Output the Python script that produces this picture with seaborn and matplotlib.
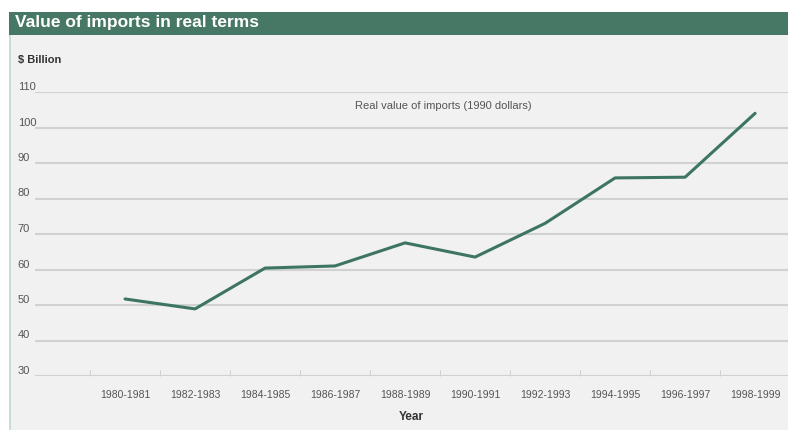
import matplotlib
matplotlib.use("Agg")
import matplotlib.pyplot as plt
from matplotlib.patches import Rectangle
import pandas as pd
import seaborn as sns

### data
periods = ["1980-1981", "1982-1983", "1984-1985", "1986-1987", "1988-1989",
           "1990-1991", "1992-1993", "1994-1995", "1996-1997", "1998-1999"]
imports = [51.7, 48.9, 60.4, 61.0, 67.5, 63.5, 73.0, 85.8, 86.0, 104.0]
yticks = [30, 40, 50, 60, 70, 80, 90, 100, 110]

df = pd.DataFrame({"Year": periods, "Imports": imports})

sns.set_style("white")
plt.rcParams["font.family"] = ["Liberation Sans Narrow", "Liberation Sans", "DejaVu Sans"]

green = "#477866"
line_col = "#3d7562"
grid_col = "#cfd2cf"
text_col = "#555555"

fig = plt.figure(figsize=(7.88, 4.30), dpi=100)
fig.patch.set_facecolor("white")

# panel background + title bar
fig.patches.append(Rectangle((9/788, 0), 1, (430-35)/430, transform=fig.transFigure,
                             facecolor="#f0f1f0", edgecolor="none", zorder=-2))
fig.patches.append(Rectangle((9/788, (430-35)/430), 1, 23/430, transform=fig.transFigure,
                             facecolor=green, edgecolor="none", zorder=-2))
fig.patches.append(Rectangle((9/788, 0), 2/788, (430-35)/430, transform=fig.transFigure,
                             facecolor="#c9ddd5", edgecolor="none", zorder=-1))
fig.text(15/788, (430-23)/430, "Value of imports in real terms", color="white",
         fontsize=12.5, fontweight="bold", va="center", ha="left")

ax = fig.add_axes([35/788, (430-376)/430, 1-35/788, (376-92)/430])
ax.set_facecolor("none")
ax.set_zorder(3)

sns.lineplot(data=df, x="Year", y="Imports", ax=ax, color=line_col, linewidth=2.2,
             sort=False)

ax.set_xlim(-1.286, 9.47)
ax.set_ylim(30, 110)
ax.set_yticks(yticks)
ax.set_yticklabels([str(t) for t in yticks])
for s in ax.spines.values():
    s.set_visible(False)
ax.grid(axis="y", color=grid_col, linewidth=1.5)
ax.grid(axis="x", visible=False)
ax.set_axisbelow(True)

ax.tick_params(axis="y", length=0, pad=12.5, labelsize=8, labelcolor=text_col)
for lab in ax.get_yticklabels():
    lab.set_horizontalalignment("left")
    lab.set_verticalalignment("bottom")

ax.set_xticks(range(len(periods)))
ax.set_xticklabels(periods)
ax.tick_params(axis="x", length=0, pad=10, labelsize=7.5, labelcolor=text_col)
ax.set_xticks([i - 0.5 for i in range(len(periods))], minor=True)
ax.tick_params(axis="x", which="minor", direction="in", length=4, color="#c8cbc8",
               bottom=True)

ax.set_xlabel("Year", fontsize=8.5, fontweight="bold", color="#333333", labelpad=8)
ax.set_ylabel("")

fig.text(18/788, (430-60)/430, "$ Billion", fontsize=8, fontweight="bold",
         color="#333333", va="center", ha="left")
ax.text(4.55, 106, "Real value of imports (1990 dollars)", fontsize=8,
        color=text_col, ha="center", va="center")

plt.savefig("out.png", dpi=100)
